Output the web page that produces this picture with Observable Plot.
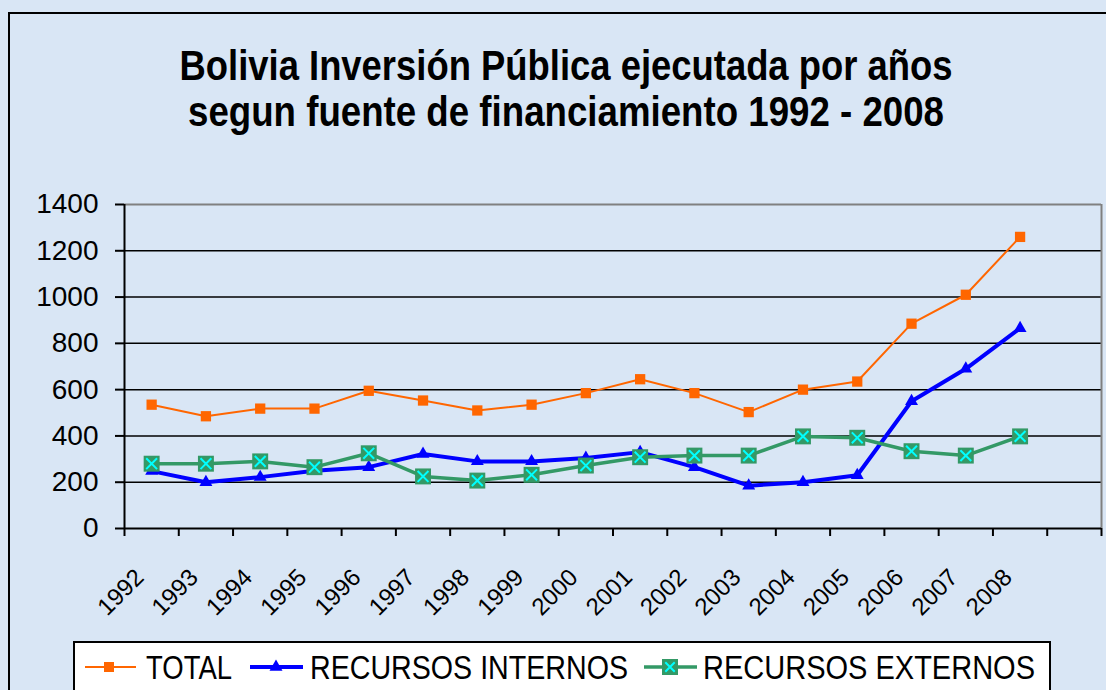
<!DOCTYPE html>
<html><head><meta charset="utf-8">
<script src="https://cdn.jsdelivr.net/npm/d3@7"></script>
<script src="https://cdn.jsdelivr.net/npm/@observablehq/plot@0.6"></script>
<style>
html,body{margin:0;padding:0;}
body{width:1106px;height:690px;overflow:hidden;background:#d9e6f5;position:relative;font-family:"Liberation Sans",Arial,sans-serif;}
#frame{position:absolute;left:8px;top:12px;width:1200px;height:800px;border:2px solid #000;box-sizing:border-box;}
#title{position:absolute;left:0;top:0;}
#chart{position:absolute;left:0;top:180px;}
#legend{position:absolute;left:73px;top:641px;}
svg text{font-family:"Liberation Sans",Arial,sans-serif;}
</style></head><body>
<div id="frame"></div>
<svg id="title" width="1106" height="180"></svg>
<div id="chart"></div>
<svg id="legend" width="1033" height="49"></svg>
<script>
const titleLines = ["Bolivia Inversión Pública ejecutada por años", "segun fuente de financiamiento 1992 - 2008"];
const years = [1992,1993,1994,1995,1996,1997,1998,1999,2000,2001,2002,2003,2004,2005,2006,2007,2008];
const total    = [535,485,518,518,595,553,510,535,585,645,585,503,600,635,885,1010,1260];
const internos = [248,200,222,250,265,322,290,290,305,330,265,185,200,230,550,690,865];
const externos = [280,280,290,265,325,225,207,232,272,308,315,315,398,392,334,315,398];
const yTicks = [0,200,400,600,800,1000,1200,1400];
const seriesNames = ["TOTAL","RECURSOS INTERNOS","RECURSOS EXTERNOS"];
const seriesColors = ["#FF6600","#0000FF","#339966"];

// Title
const ts = d3.select("#title");
ts.append("text").attr("x",566).attr("y",80).attr("text-anchor","middle")
  .attr("font-size",43).attr("font-weight","bold").attr("textLength",773).attr("lengthAdjust","spacingAndGlyphs").text(titleLines[0]);
ts.append("text").attr("x",566).attr("y",126).attr("text-anchor","middle")
  .attr("font-size",43).attr("font-weight","bold").attr("textLength",756).attr("lengthAdjust","spacingAndGlyphs").text(titleLines[1]);

// Chart
const xDomain = [years[0]-0.5, years[years.length-1]+1.5];
const bounds = d3.range(xDomain[0], xDomain[1]+0.01, 1);
const rows = (vals) => years.map((y,i)=>({year:y, value:vals[i]}));
const dT = rows(total), dI = rows(internos), dE = rows(externos);

const chart = Plot.plot({
  width:1106, height:450, marginLeft:124, marginRight:5, marginTop:24, marginBottom:102,
  style:{background:"transparent", fontFamily:"Liberation Sans, Arial, sans-serif", color:"#000", overflow:"visible"},
  x:{type:"linear", domain:xDomain},
  y:{domain:[0,1400]},
  marks:[
    Plot.gridY(yTicks.filter(t=>t>0 && t<1400), {stroke:"#000", strokeOpacity:1, strokeWidth:1.5}),
    Plot.ruleY([1400], {stroke:"#808080", strokeWidth:2}),
    Plot.ruleX([xDomain[1]], {stroke:"#808080", strokeWidth:2}),
    Plot.axisY({ticks:yTicks, tickSize:9, tickPadding:17, fontSize:28, label:null, tickFormat:d=>String(d), strokeWidth:2}),
    Plot.axisX({ticks:bounds, tickSize:8, tickFormat:()=>"", label:null, strokeWidth:2}),
    Plot.ruleX([xDomain[0]], {stroke:"#000", strokeWidth:2}),
    Plot.ruleY([0], {stroke:"#000", strokeWidth:2}),
    Plot.text(years, {x:d=>d, y:0, text:d=>String(d), rotate:-45, textAnchor:"end", dx:-12, dy:45, fontSize:24}),
    Plot.line(dT, {x:"year", y:"value", stroke:seriesColors[0], strokeWidth:2}),
    Plot.dot(dT, {x:"year", y:"value", symbol:"square", r:5.8, fill:seriesColors[0], stroke:"none"}),
    Plot.line(dI, {x:"year", y:"value", stroke:seriesColors[1], strokeWidth:4}),
    Plot.dot(dI, {x:"year", y:"value", symbol:"triangle", r:4.8, fill:seriesColors[1], stroke:"none"}),
    Plot.line(dE, {x:"year", y:"value", stroke:seriesColors[2], strokeWidth:3.5}),
    Plot.dot(dE, {x:"year", y:"value", symbol:"square", r:9, fill:seriesColors[2], stroke:"none"}),
    Plot.dot(dE, {x:"year", y:"value", symbol:"times", r:5, stroke:"#00FFFF", strokeWidth:2})
  ]
});
document.getElementById("chart").appendChild(chart);

// Legend
const lg = d3.select("#legend");
lg.append("rect").attr("x",1).attr("y",1).attr("width",976).attr("height",80).attr("fill","#fff").attr("stroke","#000").attr("stroke-width",2);
const ly = 26;
const items = [
  {x0:12, x1:63, mx:36, tx:73, tl:86, sw:2},
  {x0:177, x1:230, mx:203, tx:237, tl:318, sw:4},
  {x0:571, x1:624, mx:597, tx:630, tl:332, sw:3.5}
];
items.forEach((it,i)=>{
  lg.append("line").attr("x1",it.x0).attr("x2",it.x1).attr("y1",ly).attr("y2",ly).attr("stroke",seriesColors[i]).attr("stroke-width",it.sw);
  if(i===0) lg.append("rect").attr("x",it.mx-5).attr("y",ly-5).attr("width",10).attr("height",10).attr("fill",seriesColors[0]);
  if(i===1) lg.append("path").attr("transform",`translate(${it.mx},${ly})`).attr("d",d3.symbol(d3.symbolTriangle,73)()).attr("fill",seriesColors[1]);
  if(i===2){
    lg.append("rect").attr("x",it.mx-8).attr("y",ly-8).attr("width",16).attr("height",16).attr("fill",seriesColors[2]);
    lg.append("path").attr("transform",`translate(${it.mx},${ly})`).attr("d",d3.symbol(d3.symbolTimes,60)()).attr("stroke","#00FFFF").attr("stroke-width",2).attr("fill","none");
  }
  lg.append("text").attr("x",it.tx).attr("y",ly+12).attr("font-size",33).attr("textLength",it.tl).attr("lengthAdjust","spacingAndGlyphs").text(seriesNames[i]);
});
</script>
</body></html>
